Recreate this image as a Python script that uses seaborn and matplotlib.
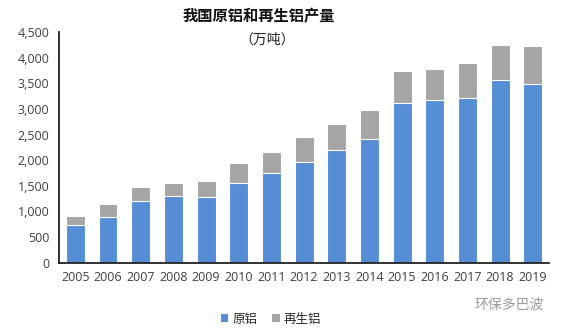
import numpy as np
import pandas as pd
import matplotlib
matplotlib.use("Agg")
import matplotlib.pyplot as plt
import seaborn as sns
from matplotlib.patches import Patch
from matplotlib.ticker import FuncFormatter

years = ["2005", "2006", "2007", "2008", "2009", "2010", "2011", "2012",
         "2013", "2014", "2015", "2016", "2017", "2018", "2019"]
primary = [730, 900, 1210, 1295, 1285, 1550, 1740, 1970, 2190, 2420,
           3120, 3175, 3210, 3560, 3490]
recycled = [180, 235, 270, 265, 305, 395, 425, 475, 525, 560,
            615, 610, 685, 690, 730]
series_names = ["原铝", "再生铝"]
title = "我国原铝和再生铝产量"
subtitle = "（万吨）"
watermark = "环保多巴波"

sns.set_theme(style="white")
plt.rcParams["font.family"] = ["Open Sans", "Noto Sans CJK SC", "DejaVu Sans"]

BLUE = "#558ED5"
GRAY = "#A5A5A5"

df = pd.DataFrame({"year": years, "primary": primary, "recycled": recycled})
df["total"] = df["primary"] + df["recycled"]

fig = plt.figure(figsize=(5.62, 3.30), dpi=100)
ax = fig.add_axes([0.105, 0.204, 0.872, 0.699])

sns.barplot(data=df, x="year", y="total", color=GRAY, width=0.58,
            edgecolor="white", linewidth=0.8, saturation=1, ax=ax)
sns.barplot(data=df, x="year", y="primary", color=BLUE, width=0.58,
            edgecolor="white", linewidth=0.8, saturation=1, ax=ax)

ax.set_ylim(0, 4500)
ax.set_xlim(-0.5, len(years) - 0.5)
ax.set_yticks(np.arange(0, 4501, 500))
ax.yaxis.set_major_formatter(FuncFormatter(lambda v, p: f"{int(v):,}"))
ax.set_xlabel("")
ax.set_ylabel("")

# x ticks at category boundaries, labels at centers
ax.set_xticks(np.arange(-0.5, len(years), 1.0))
ax.set_xticklabels([])
ax.set_xticks(np.arange(len(years)), minor=True)
ax.set_xticklabels(years, minor=True)
ax.tick_params(axis="x", which="minor", length=0, labelsize=9, colors="#404040", pad=6)
ax.tick_params(axis="x", which="major", length=4, width=1.2, color="#222222", direction="out")
ax.tick_params(axis="y", length=4, width=1.2, color="#222222", labelsize=9, labelcolor="#404040", pad=3)
for lbl in ax.get_xticklabels(minor=True) + ax.get_yticklabels():
    lbl.set_color("#404040")

sns.despine(ax=ax)
for s in ["left", "bottom"]:
    ax.spines[s].set_color("#222222")
    ax.spines[s].set_linewidth(1.3)

fig.text(0.461, 0.950, title, ha="center", va="center", fontsize=11,
         fontweight="bold", family=["Noto Sans CJK SC", "DejaVu Sans"], color="#111111")
fig.text(0.475, 0.879, subtitle, ha="center", va="center", fontsize=10,
         family=["Noto Sans CJK SC", "DejaVu Sans"], color="#222222")

handles = [Patch(facecolor=BLUE, edgecolor="none"), Patch(facecolor=GRAY, edgecolor="none")]
fig.legend(handles, series_names, loc="center", bbox_to_anchor=(0.482, 0.033), ncol=2,
           frameon=False, prop={"family": ["Noto Sans CJK SC", "DejaVu Sans"], "size": 9},
           handlelength=0.6, handleheight=0.6, handletextpad=0.3, columnspacing=1.2)

fig.text(0.906, 0.076, watermark, ha="center", va="center", fontsize=10,
         family=["Noto Sans CJK SC", "DejaVu Sans"], color="#9a9a9a")

fig.savefig("out.png", dpi=100)
